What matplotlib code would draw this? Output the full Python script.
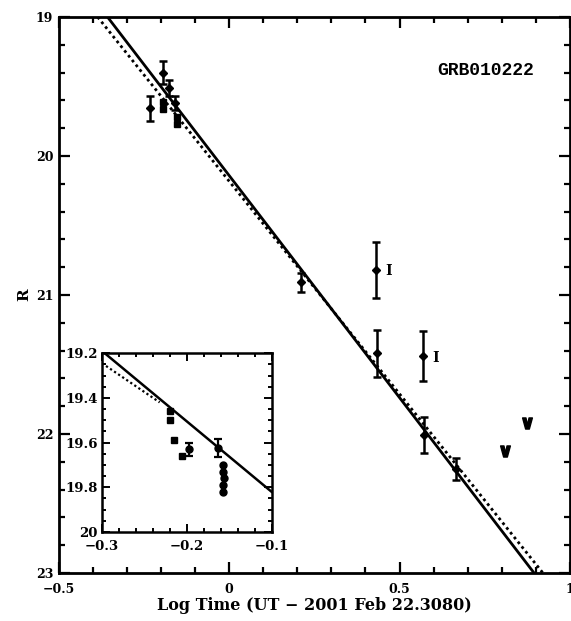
import numpy as np
import matplotlib
matplotlib.use("Agg")
import matplotlib.pyplot as plt
from matplotlib.ticker import MultipleLocator

plt.rcParams['font.family'] = ['DejaVu Serif']
plt.rcParams['font.weight'] = 'bold'

# main panel: points with error bars (log time, R, error)
pts_x = [-0.231, -0.194, -0.177, -0.158, 0.210, 0.430, 0.433, 0.570, 0.573, 0.667]
pts_y = [19.655, 19.40, 19.51, 19.62, 20.91, 20.82, 21.42, 21.44, 22.01, 22.25]
pts_err = [0.09, 0.085, 0.06, 0.05, 0.07, 0.20, 0.17, 0.18, 0.13, 0.08]

# main panel: squares without error bars
sq_x = [-0.193, -0.193, -0.153, -0.153]
sq_y = [19.61, 19.66, 19.72, 19.77]

# points converted from I band (labelled "I")
i_x = [0.430, 0.570]
i_y = [20.82, 21.44]

# upper limits
lim_x = [0.810, 0.874]
lim_y = [22.12, 21.92]

# fitted models (end points)
fit_x = [-0.357, 0.895]
fit_y = [19.0, 23.0]
fit2_x = [-0.386, 0.921]
fit2_y = [19.0, 23.0]

# inset data
in_sq_x = [-0.220, -0.220, -0.215, -0.206]
in_sq_y = [19.46, 19.50, 19.59, 19.66]
in_err_x = [-0.197, -0.163]
in_err_y = [19.63, 19.625]
in_err = [0.03, 0.04]
in_cl_x = [-0.157, -0.157, -0.156, -0.157, -0.157]
in_cl_y = [19.70, 19.73, 19.76, 19.79, 19.82]
in_fit_x = [-0.3, -0.1]
in_fit_y = [19.19, 19.82]
in_fit2_x = [-0.3, -0.232]
in_fit2_y = [19.245, 19.42]

fig = plt.figure(figsize=(5.71, 6.21), dpi=100)
ax = fig.add_axes([0.103, 0.0773, 0.895, 0.8953])

ax.plot(fit_x, fit_y, color='black', lw=2.0)
ax.plot(fit2_x, fit2_y, color='black', lw=2.0, linestyle=(0, (1, 1.2)))
ax.errorbar(pts_x, pts_y, yerr=pts_err, fmt='D', color='black', ms=4,
            elinewidth=1.8, capsize=3, capthick=1.8)
ax.plot(sq_x, sq_y, 's', color='black', ms=4)
for x, y in zip(i_x, i_y):
    ax.annotate('I', (x, y), xytext=(9, -1), textcoords='offset points',
                fontsize=10, fontweight='bold', va='center', ha='center')
ax.plot(lim_x, lim_y, linestyle='none', marker=r'$\vee$', color='black', ms=8)

ax.set_xlim(-0.5, 1.0)
ax.set_ylim(23, 19)
ax.xaxis.set_major_locator(MultipleLocator(0.5))
ax.xaxis.set_minor_locator(MultipleLocator(0.1))
ax.yaxis.set_major_locator(MultipleLocator(1))
ax.yaxis.set_minor_locator(MultipleLocator(0.2))
ax.xaxis.set_major_formatter(plt.FuncFormatter(lambda v, p: '0' if abs(v) < 1e-9 else f'{v:g}'.replace('-', '\u2212')))
ax.tick_params(which='both', direction='in', top=True, right=True, width=1.6, labelsize=9)
ax.tick_params(which='major', length=8, pad=4)
ax.tick_params(axis='x', which='major', pad=7)
ax.tick_params(which='minor', length=4)
for s in ax.spines.values():
    s.set_linewidth(2.0)

ax.set_xlabel('Log Time (UT \u2212 2001 Feb 22.3080)', fontsize=11.5, fontweight='bold', labelpad=1)
ax.set_ylabel('R', fontsize=11, fontweight='bold', labelpad=3)
ax.text(0.836, 0.903, 'GRB010222', transform=ax.transAxes, fontsize=13,
        fontweight='bold', family=['Liberation Mono', 'DejaVu Sans Mono'], ha='center', va='center')

# inset
ins = fig.add_axes([0.1786, 0.1433, 0.297, 0.288])
ins.plot(in_fit_x, in_fit_y, color='black', lw=1.8)
ins.plot(in_fit2_x, in_fit2_y, color='black', lw=1.6, linestyle=(0, (1, 1.2)))
ins.plot(in_sq_x, in_sq_y, 's', color='black', ms=5)
ins.errorbar(in_err_x, in_err_y, yerr=in_err, fmt='o', color='black', ms=5,
             elinewidth=1.6, capsize=3, capthick=1.6)
ins.plot(in_cl_x, in_cl_y, 'o', color='black', ms=5)
ins.set_xlim(-0.3, -0.1)
ins.set_ylim(20, 19.2)
ins.xaxis.set_major_locator(MultipleLocator(0.1))
ins.xaxis.set_minor_locator(MultipleLocator(0.02))
ins.yaxis.set_major_locator(MultipleLocator(0.2))
ins.yaxis.set_minor_locator(MultipleLocator(0.05))
ins.xaxis.set_major_formatter(plt.FuncFormatter(lambda v, p: f'{v:.1f}'.replace('-', '\u2212')))
ins.yaxis.set_major_formatter(plt.FuncFormatter(lambda v, p: '20' if abs(v - 20) < 1e-9 else f'{v:.1f}'))
ins.tick_params(which='both', direction='in', top=True, right=True, width=1.4, labelsize=9.5)
ins.tick_params(which='major', length=6, pad=3)
ins.tick_params(axis='x', which='major', pad=6)
ins.tick_params(which='minor', length=3)
for s in ins.spines.values():
    s.set_linewidth(1.8)

fig.savefig('out.png', dpi=100)
